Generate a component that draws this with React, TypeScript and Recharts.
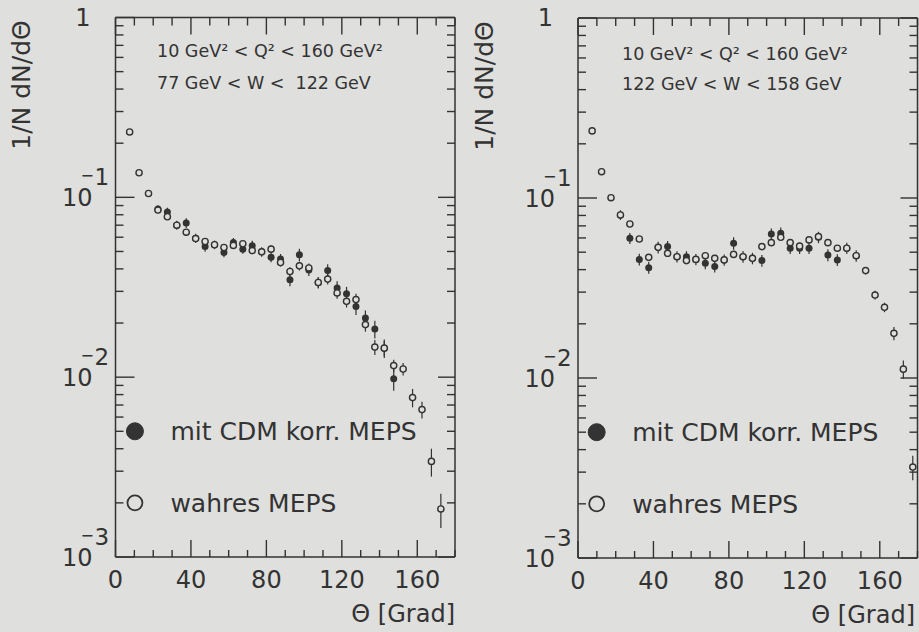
import { ScatterChart, Scatter, XAxis, YAxis, ErrorBar, ReferenceDot, ReferenceLine } from 'recharts';

const INK = '#333333';
const PAPER = '#dfdfdd';
const FONT = '"DejaVu Sans", sans-serif';

// bin centres (degrees)
const theta = [
  7.5, 12.5, 17.5, 22.5, 27.5, 32.5, 37.5, 42.5, 47.5, 52.5, 57.5, 62.5, 67.5, 72.5, 77.5, 82.5, 87.5, 92.5,
  97.5, 102.5, 107.5, 112.5, 117.5, 122.5, 127.5, 132.5, 137.5, 142.5, 147.5, 152.5, 157.5, 162.5, 167.5, 172.5, 177.5,
];

// 77 GeV < W < 122 GeV
const lowWTrue = [
  0.231, 0.137, 0.105, 0.085, 0.078, 0.07, 0.064, 0.059, 0.0568, 0.0545, 0.0526, 0.054, 0.0552, 0.0506, 0.0498, 0.0515, 0.0434, 0.0387,
  0.0416, 0.0405, 0.0336, 0.0351, 0.0294, 0.0264, 0.027, 0.0196, 0.0147, 0.0145, 0.0116, 0.0111, 0.0077, 0.0066, 0.0034, 0.00185, null,
];
const lowWTrueErr = [
  0.008, 0.005, 0.004, 0.003, 0.003, 0.0028, 0.0026, 0.0024, 0.0023, 0.0023, 0.0022, 0.0023, 0.0024, 0.0023, 0.0023, 0.0025, 0.0022, 0.0021,
  0.0024, 0.0024, 0.0021, 0.0023, 0.0021, 0.002, 0.0021, 0.0017, 0.0014, 0.0014, 0.0009, 0.0009, 0.0009, 0.0007, 0.0006, 0.0004, null,
];
const lowWCorr = [
  null, null, null, 0.086, 0.083, 0.07, 0.072, 0.0593, 0.0533, 0.0545, 0.0494, 0.056, 0.0515, 0.0538, 0.0498, 0.0465, 0.0454, 0.0348,
  0.048, 0.0395, 0.0336, 0.0392, 0.0313, 0.0291, 0.0247, 0.0213, 0.0185, 0.0145, 0.0098, null, null, null, null, null, null,
];
const lowWCorrErr = [
  null, null, null, 0.0045, 0.0045, 0.004, 0.0045, 0.0035, 0.0035, 0.003, 0.003, 0.0035, 0.003, 0.0035, 0.003, 0.003, 0.003, 0.0028,
  0.0038, 0.003, 0.0025, 0.0032, 0.0028, 0.0027, 0.0025, 0.0022, 0.0021, 0.0017, 0.0014, null, null, null, null, null, null,
];

// 122 GeV < W < 158 GeV
const highWTrue = [
  0.236, 0.14, 0.1004, 0.0805, 0.0717, 0.0592, 0.0468, 0.0532, 0.0493, 0.0472, 0.0449, 0.0456, 0.0478, 0.0462, 0.0453, 0.0486, 0.0472, 0.0462,
  0.0537, 0.0565, 0.0605, 0.0565, 0.054, 0.0585, 0.061, 0.0565, 0.0526, 0.0526, 0.0478, 0.0395, 0.0289, 0.0247, 0.0177, 0.0112, 0.0032,
];
const highWTrueErr = [
  0.008, 0.005, 0.0035, 0.003, 0.0027, 0.0023, 0.0019, 0.0021, 0.002, 0.0019, 0.0018, 0.0018, 0.0019, 0.0018, 0.0018, 0.0019, 0.0019, 0.0018,
  0.0021, 0.0022, 0.0024, 0.0022, 0.0021, 0.0023, 0.0024, 0.0022, 0.0021, 0.0021, 0.002, 0.0018, 0.0016, 0.0015, 0.0015, 0.0013, 0.0005,
];
const highWCorr = [
  null, null, null, 0.0805, 0.0597, 0.0456, 0.041, 0.0532, 0.0537, 0.0472, 0.0472, 0.0456, 0.0434, 0.0417, 0.0453, 0.056, 0.0472, 0.0462,
  0.0449, 0.063, 0.0637, 0.0526, 0.0526, 0.0526, 0.0605, 0.0482, 0.0453, 0.0526, 0.0478, null, null, null, null, null, null,
];
const highWCorrErr = [
  null, null, null, 0.005, 0.0042, 0.0034, 0.0031, 0.004, 0.004, 0.0034, 0.0034, 0.0033, 0.0032, 0.0031, 0.0033, 0.0045, 0.0035, 0.0034,
  0.0034, 0.0048, 0.0048, 0.0038, 0.0038, 0.0038, 0.0044, 0.0037, 0.0034, 0.0038, 0.0035, null, null, null, null, null, null,
];

// tick marks (every 10 deg / every 1..9 x decade) and labelled ticks
const thetaMarks = [0, 10, 20, 30, 40, 50, 60, 70, 80, 90, 100, 110, 120, 130, 140, 150, 160, 170, 180];
const thetaLabels = [0, 40, 80, 120, 160];
const densityMarks = [
  0.001, 0.002, 0.003, 0.004, 0.005, 0.006, 0.007, 0.008, 0.009,
  0.01, 0.02, 0.03, 0.04, 0.05, 0.06, 0.07, 0.08, 0.09,
  0.1, 0.2, 0.3, 0.4, 0.5, 0.6, 0.7, 0.8, 0.9, 1,
];
const densityLabels = [0.001, 0.01, 0.1, 1];

const legendCorr = 'mit CDM korr. MEPS';
const legendTrue = 'wahres MEPS';
const yTitle = '1/N dN/d\u0398';
const xTitle = '\u0398 [Grad]';

const X_DOMAIN: [number, number] = [0, 180];
const Y_DOMAIN: [number, number] = [0.001, 1];

function points(vals: (number | null)[], errs: (number | null)[]) {
  return theta
    .map((t, i) => ({ theta: t, value: vals[i], err: errs[i] }))
    .filter((p) => p.value != null);
}

function isDecade(v: number) {
  const lg = Math.log10(v);
  return Math.abs(lg - Math.round(lg)) < 1e-6;
}

// "10" with a raised full-size exponent and a long minus above the zero
const YLabel = (props: any) => {
  const { x, y, payload } = props;
  const e = Math.round(Math.log10(payload.value));
  if (e === 0) {
    return <text x={x - 25} y={y + 8} textAnchor="end" fontSize={24} fill={INK}>1</text>;
  }
  return (
    <g fill={INK}>
      <text x={x - 23} y={y + 9} textAnchor="end" fontSize={24}>10</text>
      <text x={x - 35} y={y - 16} fontSize={16}>{'\u2212'}</text>
      <text x={x - 21} y={y - 12} fontSize={23}>{-e}</text>
    </g>
  );
};

const XLabel = (props: any) => {
  const { x, y, payload } = props;
  return <text x={x} y={y + 31} textAnchor="middle" fontSize={24} fill={INK}>{payload.value}</text>;
};

const FilledDot = (props: any) => <circle cx={props.cx} cy={props.cy} r={3.5} fill={INK} />;
const OpenDot = (props: any) => (
  <circle cx={props.cx} cy={props.cy} r={3.1} fill={PAPER} stroke={INK} strokeWidth={1.4} />
);

type PanelProps = {
  width: number;
  height: number;
  margin: { top: number; right: number; bottom: number; left: number };
  trueVals: (number | null)[];
  trueErr: (number | null)[];
  corrVals: (number | null)[];
  corrErr: (number | null)[];
  legendX: number;
};

// axes are 1px thick boxes so that Recharts still draws them; margins absorb that pixel
function Panel({ width, height, margin, trueVals, trueErr, corrVals, corrErr, legendX }: PanelProps) {
  const axisLine = { stroke: INK, strokeWidth: 1.5 };
  const labelStyle = { position: 'right' as const, offset: 27, fontSize: 25, fill: INK };
  const m = { top: margin.top - 1, right: margin.right - 1, bottom: margin.bottom - 1, left: margin.left - 1 };

  // inward tick marks, lengths given in pixels and converted to data units
  const degPerPx = (X_DOMAIN[1] - X_DOMAIN[0]) / (width - margin.left - margin.right);
  const decPerPx = 3 / (height - margin.top - margin.bottom);
  const tick = { xAxisId: 'b', yAxisId: 'l', stroke: INK, strokeWidth: 1.4, ifOverflow: 'visible' as const };
  const marks: JSX.Element[] = [];
  densityMarks.forEach((v) => {
    const lenL = (isDecade(v) ? 19 : 8) * degPerPx;
    const lenR = (isDecade(v) ? 17 : 8) * degPerPx;
    marks.push(<ReferenceLine key={`yl${v}`} {...tick} segment={[{ x: 0, y: v }, { x: lenL, y: v }]} />);
    marks.push(<ReferenceLine key={`yr${v}`} {...tick} segment={[{ x: 180 - lenR, y: v }, { x: 180, y: v }]} />);
  });
  thetaMarks.forEach((t) => {
    const major = t % 40 === 0;
    const up = 10 ** ((major ? 17 : 7) * decPerPx);
    const down = 10 ** ((major ? 17 : 8) * decPerPx);
    marks.push(<ReferenceLine key={`xb${t}`} {...tick} segment={[{ x: t, y: 0.001 }, { x: t, y: 0.001 * up }]} />);
    marks.push(<ReferenceLine key={`xt${t}`} {...tick} segment={[{ x: t, y: 1 / down }, { x: t, y: 1 }]} />);
  });

  return (
    <ScatterChart width={width} height={height} margin={m}>
      <XAxis
        xAxisId="b" dataKey="theta" type="number" domain={X_DOMAIN} allowDataOverflow ticks={thetaLabels} interval={0}
        orientation="bottom" height={1} tickSize={0} tickMargin={0} tickLine={false} axisLine={axisLine}
        tick={(p: any) => <XLabel {...p} />}
      />
      <XAxis
        xAxisId="t" dataKey="theta" type="number" domain={X_DOMAIN} allowDataOverflow
        orientation="top" height={1} tick={false} tickLine={false} axisLine={axisLine}
      />
      <YAxis
        yAxisId="l" dataKey="value" type="number" scale="log" domain={Y_DOMAIN} allowDataOverflow ticks={densityLabels} interval={0}
        orientation="left" width={1} tickSize={0} tickMargin={0} tickLine={false} axisLine={axisLine}
        tick={(p: any) => <YLabel {...p} />}
      />
      <YAxis
        yAxisId="r" dataKey="value" type="number" scale="log" domain={Y_DOMAIN} allowDataOverflow
        orientation="right" width={1} tick={false} tickLine={false} axisLine={axisLine}
      />
      {marks}
      <Scatter data={points(corrVals, corrErr)} xAxisId="b" yAxisId="l" shape={FilledDot} isAnimationActive={false}>
        <ErrorBar dataKey="err" direction="y" width={0} stroke={INK} strokeWidth={1.2} isAnimationActive={false} />
      </Scatter>
      <Scatter data={points(trueVals, trueErr)} xAxisId="t" yAxisId="r" shape={OpenDot} isAnimationActive={false}>
        <ErrorBar dataKey="err" direction="y" width={0} stroke={INK} strokeWidth={1.2} isAnimationActive={false} />
      </Scatter>
      <ReferenceDot
        xAxisId="b" yAxisId="l" x={legendX} y={0.005} r={8.5} fill={INK} stroke={INK}
        label={{ ...labelStyle, value: legendCorr }}
      />
      <ReferenceDot
        xAxisId="b" yAxisId="l" x={legendX} y={0.002} r={7.5} fill={PAPER} stroke={INK} strokeWidth={1.8}
        label={{ ...labelStyle, offset: 28, value: legendTrue }}
      />
    </ScatterChart>
  );
}

export default function App() {
  return (
    <div style={{ position: 'absolute', left: 0, top: 0, width: 919, height: 632, background: PAPER, fontFamily: FONT, overflow: 'hidden' }}>
      <div style={{ position: 'absolute', left: 0, top: 0 }}>
        <Panel
          width={460} height={632} margin={{ top: 17.5, right: 5, bottom: 75, left: 115.5 }}
          trueVals={lowWTrue} trueErr={lowWTrueErr} corrVals={lowWCorr} corrErr={lowWCorrErr} legendX={10.3}
        />
      </div>
      <div style={{ position: 'absolute', left: 460, top: 0 }}>
        <Panel
          width={459} height={632} margin={{ top: 18, right: 1.5, bottom: 74, left: 118 }}
          trueVals={highWTrue} trueErr={highWTrueErr} corrVals={highWCorr} corrErr={highWCorrErr} legendX={9.9}
        />
      </div>
      <svg width={919} height={632} style={{ position: 'absolute', left: 0, top: 0, pointerEvents: 'none' }}>
        <g fill={INK} fontFamily={FONT}>
          <text transform="translate(30,85) rotate(-90)" textAnchor="middle" fontSize={25}>{yTitle}</text>
          <text transform="translate(493,86) rotate(-90)" textAnchor="middle" fontSize={25}>{yTitle}</text>

          <text x={157} y={57} fontSize={17.5} style={{ whiteSpace: 'pre' }}>10 GeV² &lt; Q² &lt; 160 GeV²</text>
          <text x={157} y={89} fontSize={17.5} style={{ whiteSpace: 'pre' }}>{'77 GeV < W <  122 GeV'}</text>
          <text x={622} y={60} fontSize={17.5} style={{ whiteSpace: 'pre' }}>10 GeV² &lt; Q² &lt; 160 GeV²</text>
          <text x={622} y={90} fontSize={17.5} style={{ whiteSpace: 'pre' }}>{'122 GeV < W < 158 GeV'}</text>

          <text x={455} y={622} textAnchor="end" fontSize={24}>{xTitle}</text>
          <text x={915} y={623} textAnchor="end" fontSize={24}>{xTitle}</text>
        </g>
      </svg>
    </div>
  );
}
